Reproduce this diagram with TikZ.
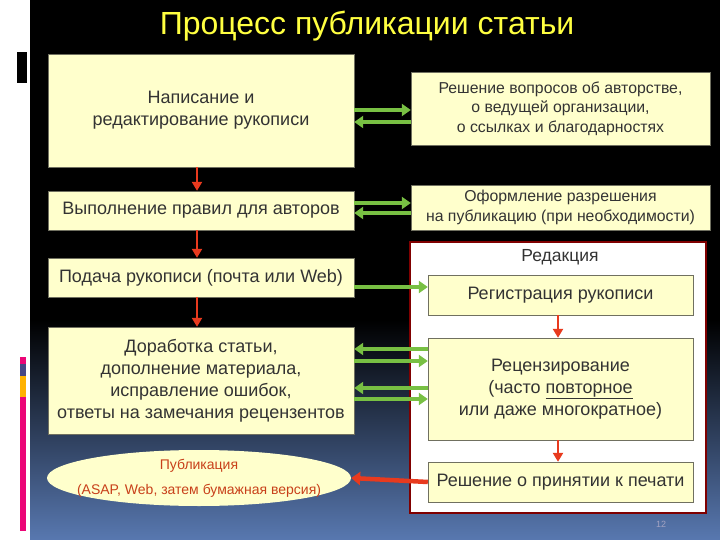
\documentclass[tikz,border=0pt]{standalone}
\usepackage{fontspec}
\setmainfont{Liberation Sans}
\usetikzlibrary{positioning,arrows.meta,shapes.geometric}

\definecolor{boxfill}{HTML}{FFFFCC}
\definecolor{boxline}{HTML}{707060}
\definecolor{arrgreen}{HTML}{78C043}
\definecolor{arrred}{HTML}{E83A1E}
\definecolor{pubred}{HTML}{C8401A}
\definecolor{slideblue}{HTML}{5878B0}
\definecolor{ttlyellow}{HTML}{FFFF40}

\tikzset{
  box/.style={draw=boxline, fill=boxfill, align=center, inner sep=2pt, text=black!80, font=\fontsize{18}{22}\selectfont},
  smallbox/.style={box, font=\fontsize{15.8}{19.5}\selectfont},
  greenarr/.style={draw=arrgreen, line width=3.5pt, -{Triangle[length=9pt,width=12pt]}},
  redarr/.style={draw=arrred, line width=2.5pt, -{Triangle[length=9pt,width=10pt]}},
}

\begin{document}
\begin{tikzpicture}[x=1pt,y=-1pt]

\useasboundingbox (0,0) rectangle (720,540);

% slide background
\fill[white] (0,0) rectangle (720,540);
\fill[black] (30,0) rectangle (720,320);
\shade[top color=black, bottom color=slideblue] (30,320) rectangle (720,540);

% left strip marks
\fill[black] (17,52) rectangle (27,83);
\fill[magenta!80!red] (20,357) rectangle (26,364);
\fill[gray!70!blue!80!black] (20,364) rectangle (26,376);
\fill[orange!60!yellow] (20,376) rectangle (26,397);
\fill[magenta!80!red] (20,397) rectangle (26,531);

\node[text=ttlyellow, font=\fontsize{32}{34}\selectfont] (title) at (367,26) {Процесс публикации статьи};

% left column
\node[box, minimum width=306, minimum height=113] (write) at (201,110.5) {Написание и\\редактирование рукописи};
\node[box, minimum width=306, minimum height=39] (rules) at (201,210.5) {Выполнение правил для авторов};
\node[box, minimum width=306, minimum height=39] (submit) at (201,277.5) {Подача рукописи (почта или Web)};
\node[box, minimum width=306, minimum height=107] (revise) at (201,380.5) {Доработка статьи,\\дополнение материала,\\исправление ошибок,\\ответы на замечания рецензентов};
\node[ellipse, fill=boxfill, minimum width=304, minimum height=56, inner xsep=-16pt, inner ysep=0pt, align=center, text=pubred, font=\fontsize{14}{25}\selectfont] (publ) at (199,478) {Публикация\\(ASAP, Web, затем бумажная версия)};

% right column
\node[smallbox, minimum width=299, minimum height=73] (author) at (560.5,108.5) {Решение вопросов об авторстве,\\о ведущей организации,\\о ссылках и благодарностях};
\node[smallbox, minimum width=299, minimum height=45] (permit) at (560.5,207.5) {Оформление разрешения\\на публикацию (при необходимости)};

\node[draw=red!50!black, line width=1.2pt, fill=white, minimum width=296, minimum height=271] (office) at (558,377.5) {};
\node[font=\fontsize{17.5}{20}\selectfont, text=black!80] (officettl) at (560,257) {Редакция};

\node[box, minimum width=265, minimum height=40] (register) at (560.5,295) {Регистрация рукописи};
\node[box, minimum width=265, minimum height=102] (review) at (560.5,389) {Рецензирование\\(часто \underline{повторное}\\или даже многократное)};
\node[box, minimum width=265, minimum height=40] (accept) at (560.5,482) {Решение о принятии к печати};

\node[text=blue!20!gray!60!white, font=\fontsize{9}{10}\selectfont] (pagenum) at (661,524) {12};

% red arrows down
\foreach \a/\b in {write/rules,rules/submit,submit/revise}
  \draw[redarr] (\a.south -| 197,0) -- (\b.north -| 197,0);
\foreach \a/\b in {register/review,review/accept}
  \draw[redarr] (\a.south -| 558,0) -- (\b.north -| 558,0);

% green arrows
\draw[greenarr] (write.east |- 0,110) -- (author.west |- 0,110);
\draw[greenarr] (author.west |- 0,122) -- (write.east |- 0,122);
\draw[greenarr] (rules.east |- 0,203) -- (permit.west |- 0,203);
\draw[greenarr] (permit.west |- 0,213) -- (rules.east |- 0,213);
\draw[greenarr] (submit.east |- 0,287) -- (register.west |- 0,287);
\foreach \yl/\yr in {349/361,388/399}{
  \draw[greenarr] (review.west |- 0,\yl) -- (revise.east |- 0,\yl);
  \draw[greenarr] (revise.east |- 0,\yr) -- (review.west |- 0,\yr);
}

% decision to publication
\draw[draw=arrred, line width=4.5pt, -{Triangle[length=9pt,width=13pt]}] (accept.west) -- (publ.east);

\end{tikzpicture}
\end{document}
